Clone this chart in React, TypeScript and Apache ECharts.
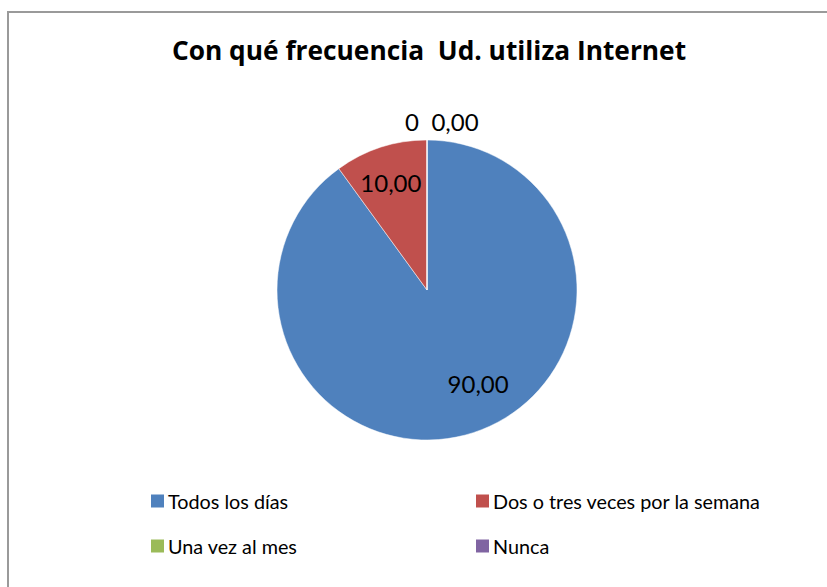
import React, { useEffect, useRef } from "react";
import * as echarts from "echarts";

const titleText = "Con qué frecuencia  Ud. utiliza Internet";
const categories = ["Todos los días", "Dos o tres veces por la semana", "Una vez al mes", "Nunca"];
const values = [90, 10, 0, 0];
const labelTexts = ["90,00", "10,00", "0", "0,00"];
const colors = ["#4F81BD", "#C0504D", "#9BBB59", "#8064A2"];

const FONT = "Lato";

export default function App() {
  const ref = useRef<HTMLDivElement>(null);
  useEffect(() => {
    if (!ref.current) return;
    const chart = echarts.init(ref.current, null, { renderer: "svg" });
    // label nudges (dx, dy) from ECharts' inside position to Excel's best-fit spot
    const nudges: [number, number][] = [
      [27, 19],
      [-12, -33],
      [-15, -91],
      [28, -91],
    ];
    const legendPos: [number, number][] = [
      [149, 494],
      [474, 494],
      [149, 539],
      [474, 539],
    ];
    chart.setOption({
      animation: false,
      backgroundColor: "#ffffff",
      title: {
        text: titleText,
        left: 424,
        textAlign: "center",
        top: 32,
        textStyle: { fontFamily: "Open Sans", fontWeight: "bold", fontSize: 26.3, color: "#000" },
      },
      legend: categories.map((c, i) => ({
        data: [c],
        left: legendPos[i][0],
        top: legendPos[i][1] - 3,
        itemWidth: 15,
        itemHeight: 15,
        itemGap: 0,
        padding: 0,
        icon: "rect",
        selectedMode: false,
        textStyle: { fontFamily: FONT, fontSize: 19.8, color: "#000", padding: [0, 0, 0, -2] },
      })),
      graphic: [
        {
          type: "rect",
          shape: { x: 8, y: 12, width: 900, height: 700 },
          style: { fill: "none", stroke: "#9a9a9a", lineWidth: 2 },
          silent: true,
        },
      ],
      series: [
        {
          type: "pie",
          center: [427, 290],
          radius: [0, 150],
          startAngle: 90,
          clockwise: true,
          avoidLabelOverlap: false,
          minShowLabelAngle: 0,
          label: {
            show: true,
            position: "inside",
            fontFamily: FONT,
            fontSize: 24,
            color: "#000",
            formatter: (p: any) => labelTexts[p.dataIndex],
          },
          labelLine: { show: false },
          labelLayout: (p: any) => ({ dx: nudges[p.dataIndex][0], dy: nudges[p.dataIndex][1] }),
          itemStyle: { borderColor: "#ffffff", borderWidth: 0.5 },
          emphasis: { disabled: true },
          data: categories.map((c, i) => ({
            name: c,
            value: values[i],
            itemStyle: { color: colors[i] },
          })),
        },
      ],
    });
    return () => chart.dispose();
  }, []);
  return (
    <div
      ref={ref}
      style={{ position: "absolute", left: 0, top: 0, width: 827, height: 587 }}
    />
  );
}
